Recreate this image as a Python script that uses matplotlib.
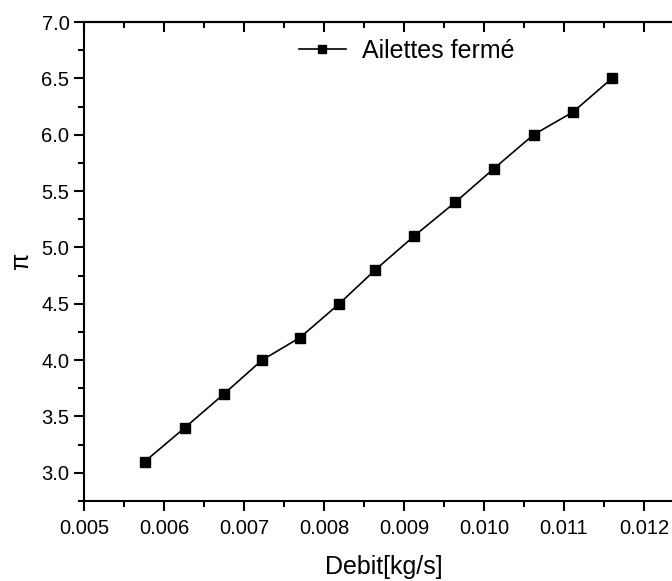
import matplotlib
matplotlib.use('Agg')
import matplotlib.pyplot as plt
from matplotlib.ticker import MultipleLocator

plt.rcParams['font.family'] = ['Liberation Sans', 'DejaVu Sans']

debit = [0.00576, 0.00626, 0.00675, 0.007225, 0.0077, 0.00819, 0.00864,
         0.009125, 0.00964, 0.010125, 0.01062, 0.01111, 0.0116]
pi_ratio = [3.1, 3.4, 3.7, 4.0, 4.2, 4.5, 4.8, 5.1, 5.4, 5.7, 6.0, 6.2, 6.5]
label = 'Ailettes fermé'

fig = plt.figure(figsize=(6.72, 5.81), dpi=100)
# axes run past the right edge, as in the cropped original
ax = fig.add_axes([84 / 672, 1 - 501 / 581, 600 / 672, (501 - 22) / 581])

ax.plot(debit, pi_ratio, color='black', lw=1.2, marker='s', ms=7.8,
        label=label)

ax.set_xlim(0.005, 0.0125)
ax.set_ylim(2.75, 7.0)
ax.xaxis.set_major_locator(MultipleLocator(0.001))
ax.xaxis.set_minor_locator(MultipleLocator(0.0005))
ax.yaxis.set_major_locator(MultipleLocator(0.5))
ax.yaxis.set_minor_locator(MultipleLocator(0.25))
ax.xaxis.set_major_formatter(plt.FormatStrFormatter('%.3f'))
ax.yaxis.set_major_formatter(plt.FormatStrFormatter('%.1f'))

for s in ax.spines.values():
    s.set_linewidth(1.5)
ax.spines['right'].set_visible(False)

ax.tick_params(which='both', direction='out', width=1.5, labelsize=14.5,
               top=False)
ax.tick_params(which='major', length=7)
ax.tick_params(which='minor', length=4)
ax.tick_params(axis='x', pad=6)

# inward ticks on the top edge, no labels
top = ax.secondary_xaxis('top')
top.set_xticks(ax.get_xticks())
top.xaxis.set_minor_locator(MultipleLocator(0.0005))
top.tick_params(which='both', direction='in', width=1.5, labeltop=False)
top.tick_params(which='major', length=7)
top.tick_params(which='minor', length=4)
top.spines['top'].set_linewidth(1.5)

ax.set_xlabel('Debit[kg/s]', fontsize=18, labelpad=12)
ax.set_ylabel('π', fontsize=18, labelpad=6)

ax.legend(loc='upper left', bbox_to_anchor=(0.32, 1.012), frameon=False,
          fontsize=18, handlelength=1.9, handletextpad=0.65, markerscale=0.8)

fig.savefig('out.png', dpi=100)
